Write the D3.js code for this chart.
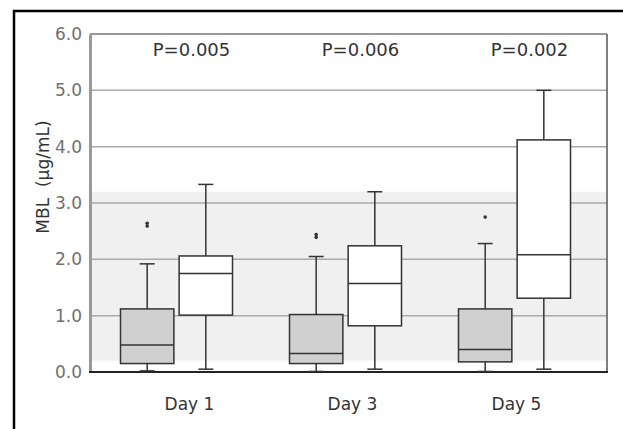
<!DOCTYPE html>
<html>
<head>
<meta charset="utf-8">
<script src="https://cdn.jsdelivr.net/npm/d3@7"></script>
<style>
  body { margin: 0; background: #fff; }
  svg { font-family: "DejaVu Sans", Verdana, sans-serif; }
</style>
</head>
<body>
<div id="chart"></div>
<script>
// categories and series
var days = ["Day 1", "Day 3", "Day 5"];
var groups = ["grey", "white"];
var pValues = ["P=0.005", "P=0.006", "P=0.002"];
var yTicks = [0, 1, 2, 3, 4, 5, 6];

// box stats: [whiskerLow, q1, median, q3, whiskerHigh]
var greyStats = [
  [0.02, 0.15, 0.48, 1.12, 1.92],
  [0.01, 0.15, 0.33, 1.02, 2.05],
  [0.01, 0.18, 0.40, 1.12, 2.28]
];
var whiteStats = [
  [0.05, 1.01, 1.75, 2.06, 3.33],
  [0.05, 0.82, 1.57, 2.24, 3.20],
  [0.05, 1.31, 2.08, 4.12, 5.00]
];
var greyOutliers = [[2.59, 2.64], [2.39, 2.44], [2.75]];
var whiteOutliers = [[], [], []];

// reference range band
var bandRange = [0.2, 3.2];

var W = 623, H = 429;
var plotLeft = 90, plotRight = 607, plotTop = 34, plotBottom = 372;

var svg = d3.select("#chart").append("svg")
  .attr("width", W).attr("height", H);

// outer frame (top and left edges only visible)
svg.append("path")
  .attr("d", "M14," + (H + 5) + "V11H" + (W + 5))
  .attr("fill", "none").attr("stroke", "#000").attr("stroke-width", 2.5);

var y = d3.scaleLinear().domain([0, 6]).range([plotBottom, plotTop]);
var x = d3.scaleBand().domain(days).range([92, 599]);
var xs = d3.scaleBand().domain(groups).range([-56, 56]).paddingInner(0.09);

// shaded band
svg.append("rect")
  .attr("x", plotLeft).attr("width", plotRight - plotLeft)
  .attr("y", y(bandRange[1])).attr("height", y(bandRange[0]) - y(bandRange[1]))
  .attr("fill", "#f0f0f0");

// grid lines
svg.append("g").selectAll("line")
  .data(yTicks.filter(function (d) { return d > 0 && d < 6; }))
  .enter().append("line")
  .attr("x1", plotLeft).attr("x2", plotRight)
  .attr("y1", function (d) { return y(d); }).attr("y2", function (d) { return y(d); })
  .attr("stroke", "#aaa").attr("stroke-width", 1.5);

// plot borders
svg.append("line").attr("x1", plotLeft).attr("x2", plotRight).attr("y1", y(6)).attr("y2", y(6))
  .attr("stroke", "#999").attr("stroke-width", 2);
svg.append("line").attr("x1", plotRight).attr("x2", plotRight).attr("y1", y(6)).attr("y2", y(0))
  .attr("stroke", "#555").attr("stroke-width", 1.5);

// y axis
var yAxis = d3.axisLeft(y).tickValues(yTicks).tickFormat(d3.format(".1f")).tickSize(0).tickPadding(8);
var ga = svg.append("g").attr("transform", "translate(" + plotLeft + ",0)").call(yAxis);
ga.select(".domain").attr("stroke", "#999").attr("stroke-width", 3);
ga.selectAll("text").attr("fill", "#707070").style("font-size", "17px")
  .style("font-family", "DejaVu Sans, Verdana, sans-serif");

// x axis (baseline + labels)
var xAxis = d3.axisBottom(x).tickSize(0).tickPadding(26);
var gx = svg.append("g").attr("transform", "translate(0," + plotBottom + ")").call(xAxis);
gx.select(".domain").remove();
svg.append("line").attr("x1", plotLeft - 1).attr("x2", plotRight + 1).attr("y1", plotBottom).attr("y2", plotBottom)
  .attr("stroke", "#222").attr("stroke-width", 2);
gx.selectAll("text").attr("fill", "#333").style("font-size", "17px")
  .style("font-family", "DejaVu Sans, Verdana, sans-serif")
  .attr("dx", function (d, i) { return [13, 7, 2][i]; });

// y axis title
svg.append("text")
  .attr("transform", "translate(49,177) rotate(-90)")
  .attr("text-anchor", "middle")
  .attr("fill", "#333").style("font-size", "17px")
  .style("white-space", "pre")
  .text("MBL  (\u00b5g/mL)");

// p-values
svg.append("g").selectAll("text").data(pValues).enter().append("text")
  .attr("x", function (d, i) { return x(days[i]) + x.bandwidth() / 2 + 15; })
  .attr("y", 56)
  .attr("text-anchor", "middle")
  .attr("fill", "#333").style("font-size", "18px")
  .text(function (d) { return d; });

// boxes
function drawBoxes(stats, outliers, key, fill) {
  var g = svg.append("g").selectAll("g").data(stats).enter().append("g")
    .attr("transform", function (d, i) {
      return "translate(" + (x(days[i]) + x.bandwidth() / 2 + xs(key)) + ",0)";
    });
  var bw = xs.bandwidth(), cap = 15;
  g.append("line").attr("x1", bw / 2).attr("x2", bw / 2)
    .attr("y1", function (d) { return y(d[0]); }).attr("y2", function (d) { return y(d[4]); })
    .attr("stroke", "#333").attr("stroke-width", 1.5);
  [0, 4].forEach(function (k) {
    g.append("line").attr("x1", bw / 2 - cap / 2).attr("x2", bw / 2 + cap / 2)
      .attr("y1", function (d) { return y(d[k]); }).attr("y2", function (d) { return y(d[k]); })
      .attr("stroke", "#333").attr("stroke-width", 1.5);
  });
  g.append("rect").attr("x", 0).attr("width", bw)
    .attr("y", function (d) { return y(d[3]); })
    .attr("height", function (d) { return y(d[1]) - y(d[3]); })
    .attr("fill", fill).attr("stroke", "#333").attr("stroke-width", 1.5);
  g.append("line").attr("x1", 0).attr("x2", bw)
    .attr("y1", function (d) { return y(d[2]); }).attr("y2", function (d) { return y(d[2]); })
    .attr("stroke", "#333").attr("stroke-width", 1.5);
  g.each(function (d, i) {
    d3.select(this).selectAll("circle").data(outliers[i]).enter().append("circle")
      .attr("cx", bw / 2).attr("cy", function (v) { return y(v); })
      .attr("r", 1.8).attr("fill", "#333");
  });
}
drawBoxes(greyStats, greyOutliers, "grey", "#d0d0d0");
drawBoxes(whiteStats, whiteOutliers, "white", "#fff");
</script>
</body>
</html>
